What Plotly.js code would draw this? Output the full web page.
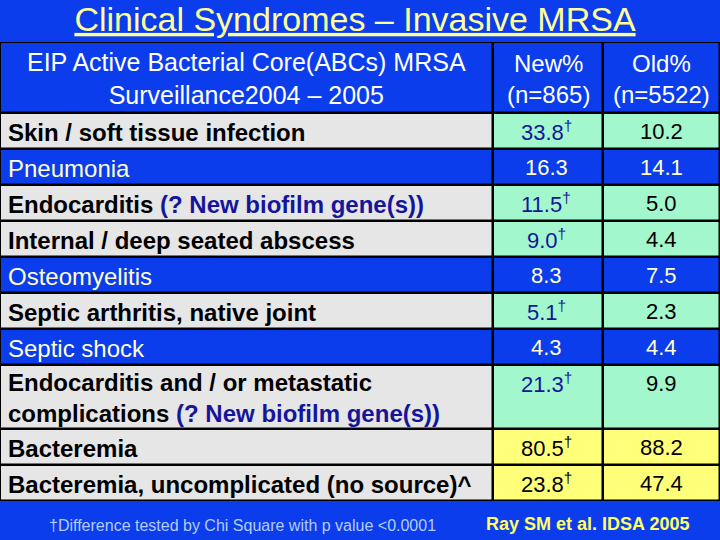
<!DOCTYPE html>
<html>
<head>
<meta charset="utf-8">
<script src="https://cdn.plot.ly/plotly-3.0.1.min.js"></script>
<style>html,body{margin:0;padding:0;background:#0b3ded;}</style>
</head>
<body>
<div id="chart" style="width:720px;height:540px;"></div>
<script>
// ---- data ----
const headerLabels = ["EIP Active Bacterial Core(ABCs) MRSA<br>Surveillance2004 – 2005", "New%<br>(n=865)", "Old%<br>(n=5522)"];
const syndromes = [
  "Skin / soft tissue infection",
  "Pneumonia",
  "Endocarditis",
  "Internal / deep seated abscess",
  "Osteomyelitis",
  "Septic arthritis, native joint",
  "Septic shock",
  "Endocarditis and / or metastatic<br>complications",
  "Bacteremia",
  "Bacteremia, uncomplicated (no source)^"
];
const syndromeNotes = ["", "", "(? New biofilm gene(s))", "", "", "", "", "(? New biofilm gene(s))", "", ""];
const newPct = ["33.8", "16.3", "11.5", "9.0", "8.3", "5.1", "4.3", "21.3", "80.5", "23.8"];
const oldPct = ["10.2", "14.1", "5.0", "4.4", "7.5", "2.3", "4.4", "9.9", "88.2", "47.4"];
const significant = [true, false, true, true, false, true, false, true, true, true];
const footnote = "†Difference tested by Chi Square with p value <0.0001";
const citation = "Ray SM et al. IDSA 2005";
const titleText = "Clinical Syndromes – Invasive MRSA";

// ---- layout / style constants (kept apart from data) ----
const BLUE = "#0b3ded", GREY = "#e6e6e6", GREEN = "#a2f7cc", YELLOW = "#ffff7a";
const NAVY = "#15159a", PALE = "#ffffcc";
const FONT = "Liberation Sans, Arial, sans-serif";
const blueRows = [1, 4, 6];
const yellowRows = [8, 9];
const colWidths = [493, 110, 117];
const tableTop = 42;
const headerHeight = 71;
const rowHeights = [36, 36, 36, 36, 36, 36, 36, 64, 36, 36];

// cell edges from widths/heights
const colEdges = [0];
colWidths.forEach(w => colEdges.push(colEdges[colEdges.length - 1] + w));
const rowEdges = [tableTop, tableTop + headerHeight];
rowHeights.forEach(h => rowEdges.push(rowEdges[rowEdges.length - 1] + h));
const tableBottom = rowEdges[rowEdges.length - 1];

// fill codes: 0 blue, 1 grey, 2 green, 3 yellow
const z = [[0, 0, 0]];
syndromes.forEach((s, i) => {
  if (blueRows.includes(i)) z.push([0, 0, 0]);
  else if (yellowRows.includes(i)) z.push([1, 3, 3]);
  else z.push([1, 2, 2]);
});

const heat = {
  type: 'heatmap',
  x: colEdges, y: rowEdges, z: z,
  zmin: 0, zmax: 3,
  colorscale: [[0, BLUE], [0.25, BLUE], [0.25, GREY], [0.5, GREY], [0.5, GREEN], [0.75, GREEN], [0.75, YELLOW], [1, YELLOW]],
  showscale: false, xgap: 2.5, ygap: 2.5, hoverinfo: 'skip'
};

const annotations = [];
const colCenter = c => (colEdges[c] + colEdges[c + 1]) / 2;
// header
headerLabels.forEach((h, c) => {
  annotations.push({
    text: h, x: colCenter(c), y: tableTop + headerHeight / 2 + 1, xref: 'x', yref: 'y',
    xanchor: 'center', yanchor: 'middle', align: 'center', showarrow: false,
    font: {family: FONT, size: c === 0 ? 25 : 24, color: '#ffffff'}
  });
});
// body
syndromes.forEach((s, i) => {
  const top = rowEdges[i + 1];
  const mid = (rowEdges[i + 1] + rowEdges[i + 2]) / 2;
  const isBlue = blueRows.includes(i);
  const isYellow = yellowRows.includes(i);
  let label = s;
  if (syndromeNotes[i]) label += ' <span style="color:' + NAVY + '">' + syndromeNotes[i] + '</span>';
  annotations.push({
    text: isBlue ? label : '<b>' + label + '</b>', x: colEdges[0] + 6, y: mid + 1, xref: 'x', yref: 'y',
    xanchor: 'left', yanchor: 'middle', align: 'left', showarrow: false,
    font: {family: FONT, size: 24, color: isBlue ? PALE : '#000000'}
  });
  const valColor = isBlue ? PALE : (isYellow ? '#000000' : (significant[i] ? NAVY : '#000000'));
  annotations.push({
    text: newPct[i] + (significant[i] ? '<sup>†</sup>' : ''), x: colCenter(1) - 2, y: top + 18, xref: 'x', yref: 'y',
    xanchor: 'center', yanchor: 'middle', showarrow: false,
    font: {family: FONT, size: 22, color: valColor}
  });
  annotations.push({
    text: oldPct[i], x: colCenter(2), y: top + 18, xref: 'x', yref: 'y',
    xanchor: 'center', yanchor: 'middle', showarrow: false,
    font: {family: FONT, size: 22, color: isBlue ? PALE : '#000000'}
  });
});
// footer
annotations.push({text: footnote, x: 242, y: 525, xref: 'x', yref: 'y', xanchor: 'center', yanchor: 'middle',
  showarrow: false, font: {family: FONT, size: 16, color: '#b4ccff'}});
annotations.push({text: '<b>' + citation + '</b>', x: 587, y: 524, xref: 'x', yref: 'y', xanchor: 'center', yanchor: 'middle',
  showarrow: false, font: {family: FONT, size: 18, color: '#ffff66'}});

const layout = {
  width: 720, height: 540,
  margin: {l: 0, r: 0, t: 0, b: 0},
  paper_bgcolor: BLUE,
  plot_bgcolor: BLUE,
  xaxis: {range: [0, 720], visible: false, fixedrange: true},
  yaxis: {range: [540, 0], visible: false, fixedrange: true},
  title: {
    text: '<u>' + titleText + '</u>',
    font: {family: FONT, size: 34, color: '#ffff99'},
    x: 355 / 720, xanchor: 'center',
    y: 1 - 19 / 540, yref: 'container', yanchor: 'middle'
  },
  shapes: [{type: 'rect', xref: 'x', yref: 'y', x0: colEdges[0], x1: colEdges[colEdges.length - 1],
    y0: tableTop, y1: tableBottom, fillcolor: '#000000', line: {width: 0}, layer: 'below'}],
  annotations: annotations
};

Plotly.newPlot('chart', [heat], layout, {displayModeBar: false, staticPlot: true});
</script>
</body>
</html>
